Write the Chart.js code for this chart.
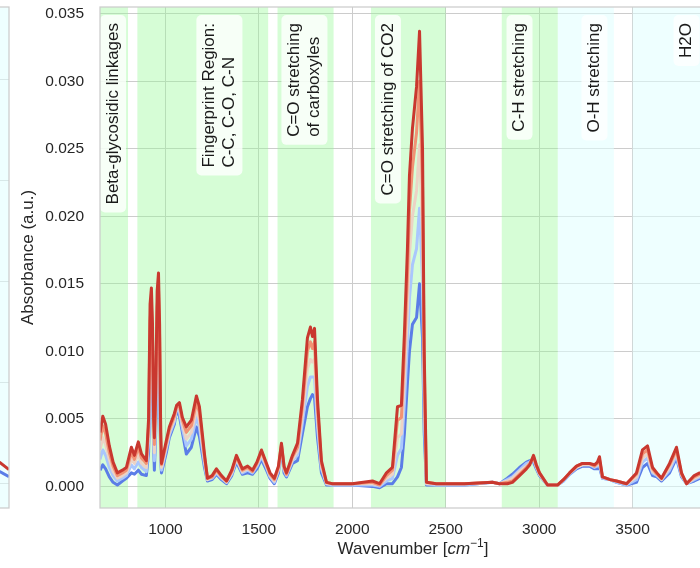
<!DOCTYPE html>
<html>
<head>
<meta charset="utf-8">
<script src="https://cdn.jsdelivr.net/npm/chart.js@4"></script>
<style>
  html, body { margin: 0; padding: 0; width: 700px; height: 568px; overflow: hidden; background: #fff; }
  #leftChart { position: absolute; left: -291px; top: 0; }
  #mainChart { position: absolute; left: 0; top: 0; }
</style>
</head>
<body>
<canvas id="leftChart" width="301" height="568"></canvas>
<canvas id="mainChart" width="730" height="568"></canvas>
<script>
// wavenumbers (cm^-1) shared by all spectra
const WAVENUMBER = [
  650, 665, 680, 700, 720, 743, 770, 791, 818, 834,
  855, 872, 898, 910, 918, 925, 931, 937, 941, 948, 956, 963, 969, 975,
  979, 1005, 1021, 1048, 1060, 1075, 1091, 1112, 1139, 1166,
  1182, 1209, 1225, 1250, 1273, 1300, 1327, 1355, 1380, 1412,
  1440, 1466, 1490, 1514, 1541, 1560, 1583, 1605, 1621, 1635,
  1648, 1680, 1707, 1733, 1760, 1776, 1787, 1798, 1814, 1835,
  1862, 1894, 2000, 2108, 2146, 2183, 2215, 2242, 2263, 2279,
  2295, 2306, 2322, 2344, 2360, 2376, 2385, 2397, 2450, 2600,
  2750, 2788, 2830, 2857, 2895, 2932, 2950, 2970, 2985, 3002,
  3045, 3098, 3130, 3163, 3200, 3232, 3270, 3296, 3312, 3323,
  3339, 3380, 3414, 3468, 3521, 3553, 3580, 3607, 3630, 3655,
  3698, 3735, 3762, 3789, 3830, 3859, 3900, 4000
];

// absorbance, from the last (red) spectrum down to the first (blue)
const ABS_RED = [
  0.0040, 0.0052, 0.0046, 0.0030, 0.0018, 0.0010, 0.0012, 0.0014, 0.0029, 0.0023,
  0.0033, 0.0024, 0.0019, 0.0050, 0.0135, 0.0147, 0.0120, 0.0050, 0.0036, 0.0070, 0.0145, 0.0158, 0.0120, 0.0040,
  0.0017, 0.0034, 0.0044, 0.0054, 0.0060, 0.0062, 0.0051, 0.0044, 0.0049, 0.0067,
  0.0059, 0.0024, 0.0006, 0.0008, 0.0013, 0.0008, 0.0004, 0.0012, 0.0023, 0.0013,
  0.0015, 0.0012, 0.0018, 0.0027, 0.0017, 0.0010, 0.0006, 0.0015, 0.0032, 0.0015,
  0.0010, 0.0023, 0.0032, 0.0064, 0.0110, 0.0118, 0.0111, 0.0117, 0.0064, 0.0019,
  0.0003, 0.0002, 0.0002, 0.0004, 0.0002, 0.0010, 0.0014, 0.0059, 0.0060, 0.0113,
  0.0175, 0.0230, 0.0265, 0.0296, 0.0337, 0.0250, 0.0100, 0.0003, 0.0002, 0.0002,
  0.0003, 0.0002, 0.0002, 0.0003, 0.0008, 0.0013, 0.0016, 0.0023, 0.0016, 0.0010,
  0.0001, 0.0001, 0.0005, 0.0010, 0.0015, 0.0017, 0.0017, 0.0016, 0.0018, 0.0022,
  0.0007, 0.0005, 0.0004, 0.0002, 0.0010, 0.0027, 0.0030, 0.0014, 0.0010, 0.0006,
  0.0017, 0.0029, 0.0010, 0.0002, 0.0008, 0.0010, 0.0009, 0.0006
];
const ABS_ORANGE = [
  0.0034, 0.0045, 0.0039, 0.0025, 0.0015, 0.0008, 0.0010, 0.0012, 0.0025, 0.0020,
  0.0029, 0.0021, 0.0017, 0.0045, 0.0123, 0.0135, 0.0110, 0.0046, 0.0031, 0.0064, 0.0133, 0.0145, 0.0110, 0.0036,
  0.0016, 0.0032, 0.0042, 0.0052, 0.0059, 0.0060, 0.0049, 0.0040, 0.0045, 0.0062,
  0.0055, 0.0022, 0.0006, 0.0007, 0.0012, 0.0007, 0.0004, 0.0011, 0.0022, 0.0012,
  0.0014, 0.0011, 0.0017, 0.0026, 0.0016, 0.0009, 0.0005, 0.0014, 0.0031, 0.0014,
  0.0009, 0.0022, 0.0029, 0.0059, 0.0100, 0.0107, 0.0102, 0.0107, 0.0058, 0.0017,
  0.0003, 0.0002, 0.0002, 0.0003, 0.0001, 0.0008, 0.0012, 0.0049, 0.0051, 0.0098,
  0.0155, 0.0204, 0.0236, 0.0262, 0.0300, 0.0222, 0.0088, 0.0003, 0.0002, 0.0002,
  0.0003, 0.0002, 0.0003, 0.0004, 0.0009, 0.0014, 0.0017, 0.0022, 0.0015, 0.0010,
  0.0001, 0.0001, 0.0005, 0.0010, 0.0015, 0.0017, 0.0017, 0.0015, 0.0017, 0.0020,
  0.0007, 0.0005, 0.0004, 0.0002, 0.0009, 0.0024, 0.0027, 0.0013, 0.0009, 0.0006,
  0.0016, 0.0027, 0.0009, 0.0002, 0.0007, 0.0009, 0.0008, 0.0006
];
const ABS_PALE = [
  0.0027, 0.0036, 0.0031, 0.0020, 0.0011, 0.0006, 0.0008, 0.0010, 0.0020, 0.0017,
  0.0024, 0.0017, 0.0014, 0.0039, 0.0108, 0.0119, 0.0098, 0.0041, 0.0025, 0.0057, 0.0118, 0.0130, 0.0098, 0.0031,
  0.0014, 0.0030, 0.0040, 0.0050, 0.0059, 0.0058, 0.0046, 0.0035, 0.0040, 0.0057,
  0.0049, 0.0020, 0.0005, 0.0007, 0.0011, 0.0007, 0.0003, 0.0010, 0.0021, 0.0011,
  0.0013, 0.0011, 0.0016, 0.0024, 0.0015, 0.0008, 0.0004, 0.0013, 0.0031, 0.0013,
  0.0009, 0.0020, 0.0026, 0.0053, 0.0087, 0.0094, 0.0092, 0.0094, 0.0051, 0.0015,
  0.0002, 0.0002, 0.0002, 0.0002, 0.0001, 0.0006, 0.0009, 0.0036, 0.0039, 0.0080,
  0.0130, 0.0172, 0.0200, 0.0219, 0.0253, 0.0187, 0.0073, 0.0002, 0.0002, 0.0002,
  0.0003, 0.0002, 0.0004, 0.0006, 0.0011, 0.0015, 0.0017, 0.0021, 0.0015, 0.0009,
  0.0001, 0.0001, 0.0005, 0.0010, 0.0014, 0.0016, 0.0016, 0.0015, 0.0016, 0.0018,
  0.0007, 0.0005, 0.0004, 0.0002, 0.0007, 0.0021, 0.0024, 0.0011, 0.0009, 0.0005,
  0.0014, 0.0025, 0.0009, 0.0002, 0.0006, 0.0008, 0.0008, 0.0005
];
const ABS_LIGHTBLUE = [
  0.0020, 0.0027, 0.0023, 0.0014, 0.0008, 0.0004, 0.0006, 0.0008, 0.0016, 0.0013,
  0.0018, 0.0014, 0.0011, 0.0033, 0.0093, 0.0104, 0.0085, 0.0036, 0.0019, 0.0049, 0.0103, 0.0114, 0.0085, 0.0026,
  0.0012, 0.0028, 0.0038, 0.0048, 0.0058, 0.0055, 0.0043, 0.0030, 0.0035, 0.0051,
  0.0044, 0.0017, 0.0005, 0.0006, 0.0010, 0.0006, 0.0003, 0.0009, 0.0020, 0.0010,
  0.0012, 0.0010, 0.0015, 0.0022, 0.0014, 0.0007, 0.0003, 0.0012, 0.0030, 0.0012,
  0.0008, 0.0019, 0.0023, 0.0047, 0.0074, 0.0081, 0.0081, 0.0081, 0.0044, 0.0013,
  0.0002, 0.0001, 0.0001, 0.0001, 0.0000, 0.0004, 0.0006, 0.0023, 0.0028, 0.0061,
  0.0106, 0.0139, 0.0164, 0.0176, 0.0206, 0.0152, 0.0058, 0.0002, 0.0001, 0.0001,
  0.0003, 0.0002, 0.0005, 0.0007, 0.0012, 0.0017, 0.0018, 0.0020, 0.0014, 0.0009,
  0.0001, 0.0001, 0.0004, 0.0009, 0.0014, 0.0016, 0.0016, 0.0014, 0.0015, 0.0016,
  0.0006, 0.0005, 0.0003, 0.0001, 0.0005, 0.0018, 0.0021, 0.0010, 0.0008, 0.0005,
  0.0012, 0.0023, 0.0008, 0.0002, 0.0005, 0.0007, 0.0007, 0.0005
];
const ABS_BLUE = [
  0.0012, 0.0016, 0.0013, 0.0007, 0.0003, 0.0001, 0.0004, 0.0006, 0.0010, 0.0009,
  0.0012, 0.0009, 0.0008, 0.0025, 0.0075, 0.0085, 0.0070, 0.0030, 0.0012, 0.0040, 0.0085, 0.0095, 0.0070, 0.0020,
  0.0010, 0.0025, 0.0036, 0.0046, 0.0057, 0.0052, 0.0040, 0.0024, 0.0029, 0.0044,
  0.0037, 0.0014, 0.0004, 0.0005, 0.0009, 0.0005, 0.0002, 0.0008, 0.0018, 0.0009,
  0.0010, 0.0009, 0.0013, 0.0020, 0.0012, 0.0006, 0.0002, 0.0010, 0.0029, 0.0010,
  0.0007, 0.0017, 0.0019, 0.0039, 0.0059, 0.0065, 0.0068, 0.0066, 0.0036, 0.0010,
  0.0001, 0.0001, 0.0001, 0.0000, -0.0001, 0.0002, 0.0002, 0.0007, 0.0014, 0.0039,
  0.0076, 0.0100, 0.0120, 0.0125, 0.0150, 0.0110, 0.0040, 0.0001, 0.0001, 0.0001,
  0.0003, 0.0002, 0.0006, 0.0009, 0.0014, 0.0018, 0.0019, 0.0018, 0.0013, 0.0008,
  0.0001, 0.0001, 0.0004, 0.0009, 0.0013, 0.0015, 0.0015, 0.0013, 0.0013, 0.0014,
  0.0006, 0.0005, 0.0003, 0.0001, 0.0003, 0.0014, 0.0017, 0.0008, 0.0007, 0.0004,
  0.0010, 0.0021, 0.0007, 0.0002, 0.0004, 0.0006, 0.0006, 0.0004
];

// axis ticks
const X_TICKS = [1000, 1500, 2000, 2500, 3000, 3500, 4000];
const Y_TICKS = [0, 0.005, 0.01, 0.015, 0.02, 0.025, 0.03, 0.035];

// shaded bands
const BAND_START = [650, 850, 1600, 2100, 2800, 3100, 3500];
const BAND_END   = [800, 1550, 1900, 2500, 3100, 3400, 4000];
const BAND_KIND  = ['green', 'green', 'green', 'green', 'green', 'cyan', 'cyan'];

// band labels
const LABEL_TEXT = [
  ['Beta-glycosidic linkages'],
  ['Fingerprint Region:', 'C-C, C-O, C-N'],
  ['C=O stretching', 'of carboxyles'],
  ['C=O stretching of CO2'],
  ['C-H stretching'],
  ['O-H stretching'],
  ['H2O']
];
const LABEL_WN = [720, 1289, 1744, 2191, 2895, 3296, 3789];

// edge of the neighbouring panel
const LEFT_X = [94, 97, 100];
const LEFT_RED = [0.24, 0.21, 0.14];
const LEFT_BLUE = [0.13, 0.12, 0.07];
const LEFT_Y_TICKS = [0, 1, 2, 3, 4];

const FONT = '"Liberation Sans", Arial, sans-serif';
const BAND_COLOR = { green: 'rgba(152, 251, 152, 0.4)', cyan: 'rgba(224, 255, 255, 0.55)' };

const frame = {
  id: 'frame',
  afterDraw(chart) {
    const { ctx, chartArea: a } = chart;
    ctx.save();
    ctx.strokeStyle = '#cccccc';
    ctx.lineWidth = 1.25;
    ctx.strokeRect(a.left, a.top, a.right - a.left, a.bottom - a.top);
    ctx.restore();
  }
};

const bands = {
  id: 'bands',
  beforeDatasetsDraw(chart) {
    const { ctx, chartArea: a, scales: { x } } = chart;
    ctx.save();
    ctx.beginPath();
    ctx.rect(a.left, a.top, a.right - a.left, a.bottom - a.top);
    ctx.clip();
    BAND_START.forEach((s, i) => {
      const x0 = x.getPixelForValue(s);
      const x1 = x.getPixelForValue(BAND_END[i]);
      ctx.fillStyle = BAND_COLOR[BAND_KIND[i]];
      ctx.fillRect(x0, a.top, x1 - x0, a.bottom - a.top);
    });
    ctx.restore();
  }
};

const bandLabels = {
  id: 'bandLabels',
  afterDatasetsDraw(chart) {
    const { ctx, scales: { x } } = chart;
    const lh = 20, padX = 3, padY = 8, top = 23;
    ctx.save();
    ctx.font = '17px ' + FONT;
    LABEL_TEXT.forEach((lines, i) => {
      const cx = x.getPixelForValue(LABEL_WN[i]);
      const w = Math.max(...lines.map(t => ctx.measureText(t).width));
      const half = lines.length * lh / 2;
      ctx.fillStyle = 'rgba(255, 255, 255, 0.8)';
      ctx.beginPath();
      ctx.roundRect(cx - half - padX, top - padY, 2 * (half + padX), w + 2 * padY, 5);
      ctx.fill();
      ctx.save();
      ctx.translate(cx, 0);
      ctx.rotate(-Math.PI / 2);
      ctx.fillStyle = '#1a1a1a';
      ctx.textAlign = 'left';
      ctx.textBaseline = 'middle';
      lines.forEach((t, j) => {
        ctx.fillText(t, -(top + w), (j - (lines.length - 1) / 2) * lh);
      });
      ctx.restore();
    });
    ctx.restore();
  }
};

const axisTitles = {
  id: 'axisTitles',
  afterDraw(chart) {
    const { ctx, chartArea: a } = chart;
    ctx.save();
    ctx.fillStyle = '#262626';
    ctx.textBaseline = 'alphabetic';
    // y title
    ctx.save();
    ctx.translate(33, (a.top + a.bottom) / 2);
    ctx.rotate(-Math.PI / 2);
    ctx.font = '17px ' + FONT;
    ctx.textAlign = 'center';
    ctx.fillText('Absorbance (a.u.)', 0, 0);
    ctx.restore();
    // x title with italic unit and superscript
    const parts = [
      { t: 'Wavenumber [', f: '17px ' + FONT, dy: 0 },
      { t: 'cm', f: 'italic 17px ' + FONT, dy: 0 },
      { t: '\u22121', f: '12px ' + FONT, dy: -7 },
      { t: ']', f: '17px ' + FONT, dy: 0 }
    ];
    let total = 0;
    parts.forEach(p => { ctx.font = p.f; p.w = ctx.measureText(p.t).width; total += p.w; });
    let xPos = (a.left + a.right) / 2 - total / 2;
    ctx.textAlign = 'left';
    parts.forEach(p => {
      ctx.font = p.f;
      ctx.fillText(p.t, xPos, 554 + p.dy);
      xPos += p.w;
    });
    ctx.restore();
  }
};

const seriesColors = ['#c9382f', '#f29274', '#ecd3c5', '#aac7fd', '#5b7de7'];
const seriesValues = [ABS_RED, ABS_ORANGE, ABS_PALE, ABS_LIGHTBLUE, ABS_BLUE];

new Chart(document.getElementById('mainChart').getContext('2d'), {
  type: 'line',
  data: {
    datasets: seriesValues.map((vals, k) => ({
      data: WAVENUMBER.map((w, i) => ({ x: w, y: vals[i] })),
      borderColor: seriesColors[k],
      borderWidth: 3,
      borderJoinStyle: 'round',
      pointRadius: 0,
      fill: false,
      tension: 0
    }))
  },
  options: {
    responsive: false,
    animation: false,
    devicePixelRatio: 1,
    events: [],
    layout: { padding: { top: 7, right: 4, left: 0, bottom: 0 } },
    plugins: { legend: { display: false }, tooltip: { enabled: false } },
    scales: {
      x: {
        type: 'linear',
        min: 650,
        max: 4000,
        afterBuildTicks: s => { s.ticks = X_TICKS.map(v => ({ value: v })); },
        afterFit: s => { s.height = 60; s.paddingLeft = 0; s.paddingRight = 0; },
        border: { display: false },
        grid: { color: '#cccccc', lineWidth: 1, drawTicks: false },
        ticks: {
          autoSkip: false,
          padding: 12,
          color: '#262626',
          font: { family: FONT, size: 15.5 },
          maxRotation: 0,
          callback: v => String(v)
        }
      },
      y: {
        min: -0.0016,
        max: 0.0355,
        afterBuildTicks: s => { s.ticks = Y_TICKS.map(v => ({ value: v })); },
        afterFit: s => { s.width = 100; s.paddingTop = 0; s.paddingBottom = 0; },
        border: { display: false },
        grid: { color: '#cccccc', lineWidth: 1, drawTicks: false },
        ticks: {
          autoSkip: false,
          padding: 16,
          color: '#262626',
          font: { family: FONT, size: 15.5 },
          callback: v => v.toFixed(3)
        }
      }
    }
  },
  plugins: [bands, bandLabels, frame, axisTitles]
});

const leftBand = {
  id: 'leftBand',
  beforeDatasetsDraw(chart) {
    const { ctx, chartArea: a } = chart;
    ctx.save();
    ctx.fillStyle = BAND_COLOR.cyan;
    ctx.fillRect(a.left, a.top, a.right - a.left, a.bottom - a.top);
    ctx.restore();
  }
};

new Chart(document.getElementById('leftChart').getContext('2d'), {
  type: 'line',
  data: {
    datasets: [
      { data: LEFT_X.map((v, i) => ({ x: v, y: LEFT_RED[i] })), borderColor: '#c9382f', borderWidth: 3, pointRadius: 0 },
      { data: LEFT_X.map((v, i) => ({ x: v, y: LEFT_BLUE[i] })), borderColor: '#5b7de7', borderWidth: 3, pointRadius: 0 }
    ]
  },
  options: {
    responsive: false,
    animation: false,
    devicePixelRatio: 1,
    events: [],
    layout: { padding: { top: 7, right: 1, left: 0, bottom: 0 } },
    plugins: { legend: { display: false }, tooltip: { enabled: false } },
    scales: {
      x: {
        type: 'linear', min: 0, max: 100,
        afterFit: s => { s.height = 60; s.paddingLeft = 0; s.paddingRight = 0; },
        border: { display: false },
        grid: { display: false },
        ticks: { display: false }
      },
      y: {
        min: -0.24, max: 4.72,
        afterBuildTicks: s => { s.ticks = LEFT_Y_TICKS.map(v => ({ value: v })); },
        afterFit: s => { s.width = 0; s.paddingTop = 0; s.paddingBottom = 0; },
        border: { display: false },
        grid: { color: '#cccccc', lineWidth: 1, drawTicks: false },
        ticks: { display: false }
      }
    }
  },
  plugins: [leftBand, frame]
});
</script>
</body>
</html>
